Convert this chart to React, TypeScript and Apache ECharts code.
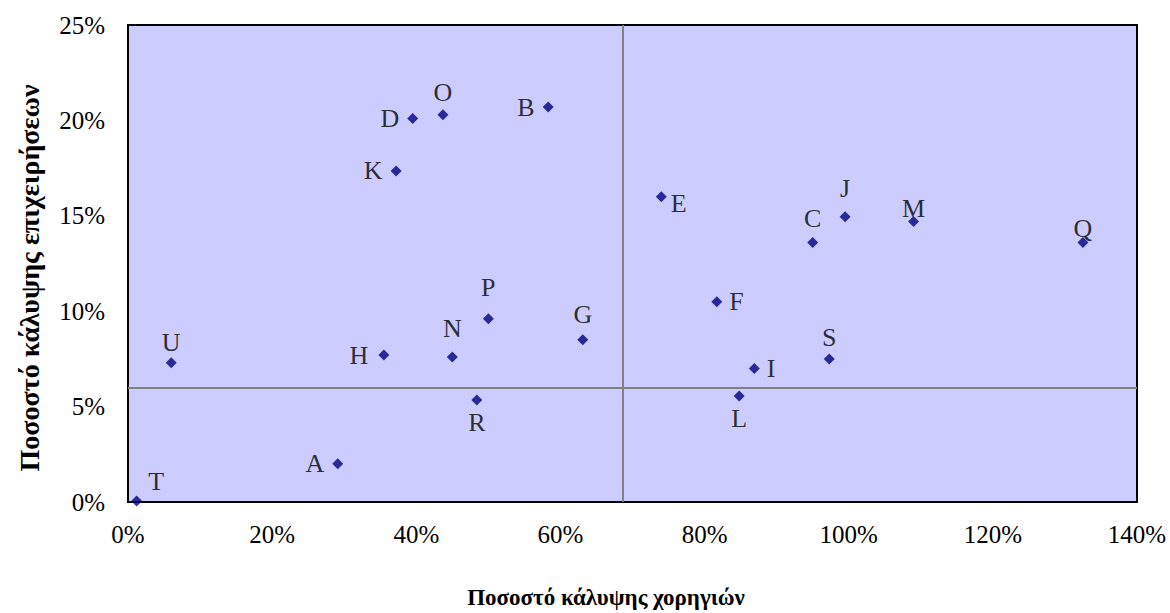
import React, { useEffect, useRef } from "react";
import * as echarts from "echarts";

const names = ["A", "B", "C", "D", "E", "F", "G", "H", "I", "J", "K", "L", "M", "N", "O", "P", "Q", "R", "S", "T", "U"];
const grantCoverage = [29.1, 58.3, 95.0, 39.5, 74.0, 81.7, 63.1, 35.5, 86.9, 99.5, 37.2, 84.8, 109.0, 45.0, 43.7, 50.0, 132.5, 48.4, 97.3, 1.2, 6.0];
const businessCoverage = [2.0, 20.7, 13.6, 20.1, 16.0, 10.5, 8.5, 7.7, 7.0, 14.95, 17.35, 5.55, 14.7, 7.6, 20.3, 9.6, 13.6, 5.35, 7.5, 0.05, 7.3];
const refX = 68.6;
const refY = 6;
const xTitle = "Ποσοστό κάλυψης χορηγιών";
const yTitle = "Ποσοστό κάλυψης επιχειρήσεων";

const labelPlace: Record<string, any> = {
  A: { position: "left", distance: 8 },
  B: { position: "left", distance: 8 },
  C: { position: "top", distance: 6 },
  D: { position: "left", distance: 8 },
  E: { position: "right", distance: 4, offset: [0, 7] },
  F: { position: "right", distance: 7 },
  G: { position: "top", distance: 7 },
  H: { position: "left", distance: 10 },
  I: { position: "right", distance: 7 },
  J: { position: "top", distance: 10 },
  K: { position: "left", distance: 8 },
  L: { position: "bottom", distance: 4 },
  M: { position: "top", distance: 0, offset: [0, 5] },
  N: { position: "top", distance: 10 },
  O: { position: "top", distance: 4 },
  P: { position: "top", distance: 13 },
  Q: { position: "top", distance: 0, offset: [0, 4] },
  R: { position: "bottom", distance: 4 },
  S: { position: "top", distance: 3 },
  T: { position: "right", distance: 2, offset: [4, -20] },
  U: { position: "top", distance: 2 },
};

const FONT = '"Liberation Serif", "Times New Roman", serif';

export default function App() {
  const ref = useRef<HTMLDivElement>(null);
  useEffect(() => {
    document.body.style.margin = "0";
    if (!ref.current) return;
    const chart = echarts.init(ref.current, null, { renderer: "svg" });
    const data = names.map((n, i) => ({
      name: n,
      value: [grantCoverage[i], businessCoverage[i]],
      label: { show: true, formatter: n, ...labelPlace[n] },
    }));
    chart.setOption({
      animation: false,
      backgroundColor: "#ffffff",
      textStyle: { fontFamily: FONT },
      grid: {
        left: 128,
        top: 25,
        right: 33,
        bottom: 111,
        show: true,
        backgroundColor: "#CCCCFF",
        borderColor: "#000000",
        borderWidth: 2,
      },
      graphic: [
        {
          type: "text",
          x: 606,
          y: 597,
          style: {
            text: xTitle,
            font: `bold 23px ${FONT}`,
            fill: "#000",
            textAlign: "center",
            textVerticalAlign: "middle",
          },
        },
        {
          type: "text",
          x: 29,
          y: 278,
          rotation: Math.PI / 2,
          style: {
            text: yTitle,
            font: `bold 28px ${FONT}`,
            fill: "#000",
            textAlign: "center",
            textVerticalAlign: "middle",
          },
        },
      ],
      xAxis: {
        type: "value",
        min: 0,
        max: 140,
        interval: 20,
        axisLine: { show: false },
        axisTick: { show: false },
        splitLine: { show: false },
        axisLabel: { formatter: "{value}%", fontSize: 25, color: "#000", fontFamily: FONT, margin: 20 },
      },
      yAxis: {
        type: "value",
        min: 0,
        max: 25,
        interval: 5,
        axisLine: { show: false },
        axisTick: { show: false },
        splitLine: { show: false },
        axisLabel: { formatter: "{value}%", fontSize: 25, color: "#000", fontFamily: FONT, margin: 23 },
      },
      series: [
        {
          type: "scatter",
          symbol: "diamond",
          symbolSize: 11,
          itemStyle: { color: "#000080" },
          label: { color: "#000", fontSize: 26, fontFamily: FONT },
          data,
          markLine: {
            silent: true,
            symbol: "none",
            label: { show: false },
            lineStyle: { color: "#808080", width: 2, type: "solid" },
            data: [{ xAxis: refX }, { yAxis: refY }],
          },
          z: 3,
        },
      ],
    });
    return () => chart.dispose();
  }, []);
  return <div ref={ref} style={{ width: 1170, height: 613 }} />;
}
